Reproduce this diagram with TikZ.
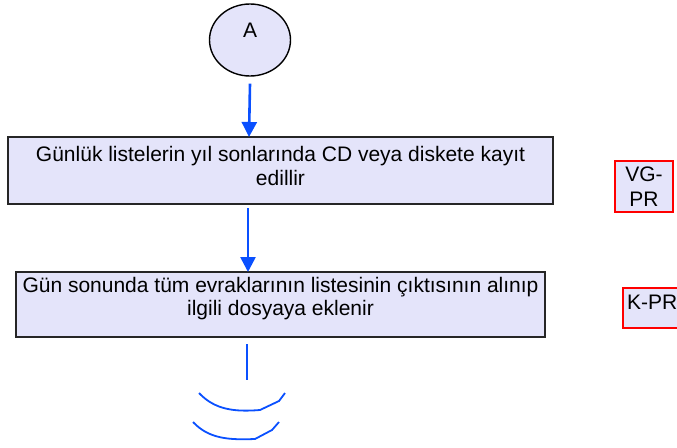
\documentclass[tikz,border=0pt]{standalone}
\usepackage{fontspec}
\setmainfont{Liberation Sans}
\usetikzlibrary{arrows.meta,shapes.geometric}
\definecolor{boxfill}{RGB}{228,228,250}
\definecolor{arrowblue}{RGB}{10,80,255}
\begin{document}
\begin{tikzpicture}[x=1pt,y=-1pt,
  procbox/.style={draw=black!85,line width=1.3pt,fill=boxfill},
  refbox/.style={draw=red,line width=1.6pt,fill=boxfill},
  flow/.style={draw=arrowblue,line width=2.6pt,-{Triangle[length=15pt,width=15pt]}},
  plainflow/.style={draw=arrowblue,line width=2.4pt},
  lbl/.style={font=\fontsize{21}{24}\selectfont,align=center,inner sep=0pt}]
\useasboundingbox (0,0) rectangle (677,447);
% connector A
\node[draw=black,line width=1.4pt,fill=boxfill,ellipse,minimum width=81pt,minimum height=72pt,inner sep=0pt] (a) at (250,40) {};
\node[lbl] (atext) at (250,30) {A};
% box 1
\path[procbox] (8,137) rectangle (553,204);
\coordinate (b1top) at (249,137);
\node[lbl] (b1) at (280.5,166) {Günlük listelerin yıl sonlarında CD veya diskete kayıt\\edillir};
% box 2
\path[procbox] (16,272) rectangle (545,337);
\coordinate (b2top) at (248,272);
\node[lbl,font=\fontsize{21}{23}\selectfont] (b2) at (280.5,298.5) {Gün sonunda tüm evraklarının listesinin çıktısının alınıp\\ilgili dosyaya eklenir};
% refs
\node[refbox,minimum width=58pt,minimum height=51pt,inner sep=0pt] (vg) at (644,186.5) {};
\node[lbl,font=\fontsize{21}{25}\selectfont] at (644,187) {VG-\\PR};
\path[refbox] (623,288) rectangle (690,328);
\node[lbl,anchor=base west] (kpr) at (627,309) {K-PR};
% arrows
\draw[flow] (a.south) ++(0,7) coordinate (astart) -- (b1top);
\coordinate (s2) at (248,208);
\draw[flow] (s2) -- (b2top);
\coordinate (l3s) at (247,344);
\coordinate (l3e) at (247,380);
\draw[plainflow] (l3s) -- (l3e);
% off-page marks
\draw[arrowblue,line width=1.8pt] (199,393) .. controls (215,410) and (235,412) .. (260,410) -- (279,401) -- (285,393);
\draw[arrowblue,line width=1.8pt] (193,422) .. controls (209,439) and (229,440) .. (255,439) -- (272,430) -- (279,422);
\end{tikzpicture}
\end{document}
